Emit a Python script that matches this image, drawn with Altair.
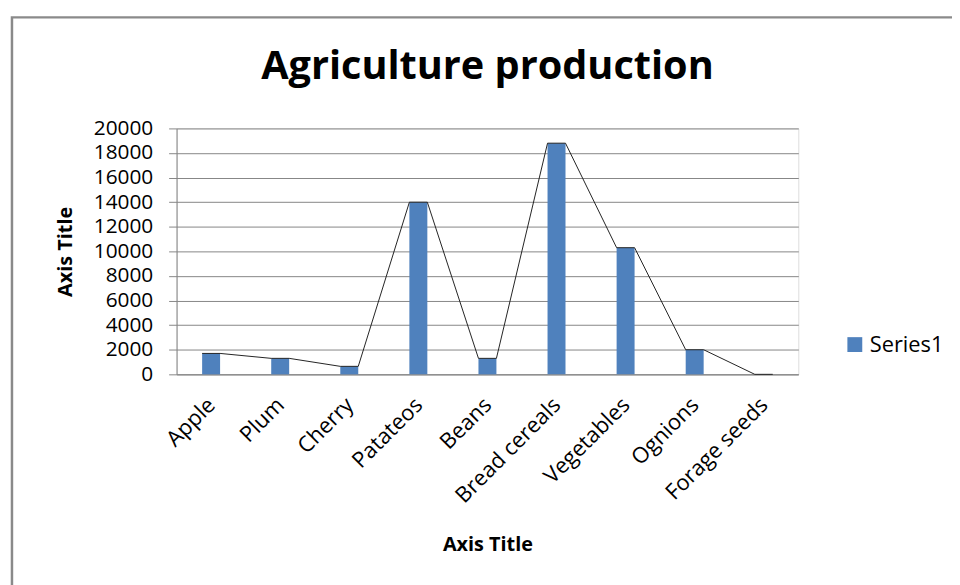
import altair as alt
import pandas as pd

categories = ["Apple", "Plum", "Cherry", "Patateos", "Beans",
              "Bread cereals", "Vegetables", "Ognions", "Forage seeds"]
values = [1700, 1300, 650, 14000, 1300, 18800, 10300, 2000, 0]
series_name = "Series1"
y_ticks = list(range(0, 20001, 2000))

df = pd.DataFrame({
    "category": categories,
    "idx": list(range(len(categories))),
    "value": values,
    "series": [series_name] * len(categories),
})

FONT = "Open Sans"
BLUE = "#4F81BD"
GRID = "#868686"
HALF = 0.13  # half bar width in category units

label_expr = "[" + ",".join("'%s'" % c for c in categories) + "][datum.value]"

x_axis = alt.Axis(
    values=list(range(len(categories))), labelExpr=label_expr,
    labelAngle=-45, labelAlign="right", labelBaseline="middle",
    labelFontSize=22, labelFont=FONT, labelColor="#000", labelPadding=27,
    labelOverlap=False, labelBound=False,
    ticks=False, grid=False, domainColor=GRID,
    title="Axis Title", titleFont=FONT, titleFontSize=20, titleFontWeight="bold",
    titleColor="#000", titlePadding=28,
)
y_axis = alt.Axis(
    values=y_ticks, labelFontSize=21, labelFont=FONT, labelColor="#000",
    labelPadding=16, tickSize=8, tickColor=GRID, domainColor=GRID,
    gridColor=GRID, format="d", labelFlush=False, labelOverlap=False,
    title="Axis Title", titleFont=FONT, titleFontSize=20, titleFontWeight="bold",
    titleColor="#000", titlePadding=18,
)

x_scale = alt.Scale(domain=[-0.5, len(categories) - 0.5], nice=False, zero=False)
y_scale = alt.Scale(domain=[0, 20000], nice=False)

base = alt.Chart(df)

bars = base.transform_filter("datum.value > 0").transform_calculate(
    lo="datum.idx - %f" % HALF, hi="datum.idx + %f" % HALF
).mark_bar().encode(
    x=alt.X("lo:Q", scale=x_scale, axis=x_axis),
    x2="hi:Q",
    y=alt.Y("value:Q", scale=y_scale, axis=y_axis),
    y2=alt.datum(0),
    color=alt.Color("series:N", scale=alt.Scale(domain=[series_name], range=[BLUE]),
                    legend=alt.Legend(title=None, orient="none", legendX=673, legendY=207,
                                      symbolType="square", symbolSize=225,
                                      symbolStrokeWidth=0, labelFont=FONT,
                                      labelFontSize=22, labelColor="#000")),
)

line = base.transform_calculate(
    left="datum.idx - %f" % HALF, right="datum.idx + %f" % HALF
).transform_fold(["left", "right"], as_=["corner", "xpos"]).mark_line(
    color="#222", strokeWidth=1
).encode(
    x=alt.X("xpos:Q", scale=x_scale, axis=x_axis),
    y=alt.Y("value:Q", scale=y_scale, axis=y_axis),
    order=alt.Order("xpos:Q"),
)

frame = alt.Chart(pd.DataFrame({"frame": [1]})).mark_rect(
    fill=None, stroke="#8a8a8a", strokeWidth=2.5
).encode(
    x=alt.value(-166), x2=alt.value(900), y=alt.value(-112), y2=alt.value(600)
)

chart = alt.layer(frame, bars, line).properties(
    width=627, height=248,
    title=alt.TitleParams("Agriculture production", font=FONT, fontSize=40,
                          fontWeight="bold", color="#000", anchor="middle",
                          offset=0, dy=71),
    autosize=alt.AutoSizeParams(type="none"),
    padding={"left": 170, "top": 119, "right": 155, "bottom": 210},
).configure_view(stroke=None).configure(background="white")

chart.save("out.html", embed_options={"renderer": "svg", "actions": False})
